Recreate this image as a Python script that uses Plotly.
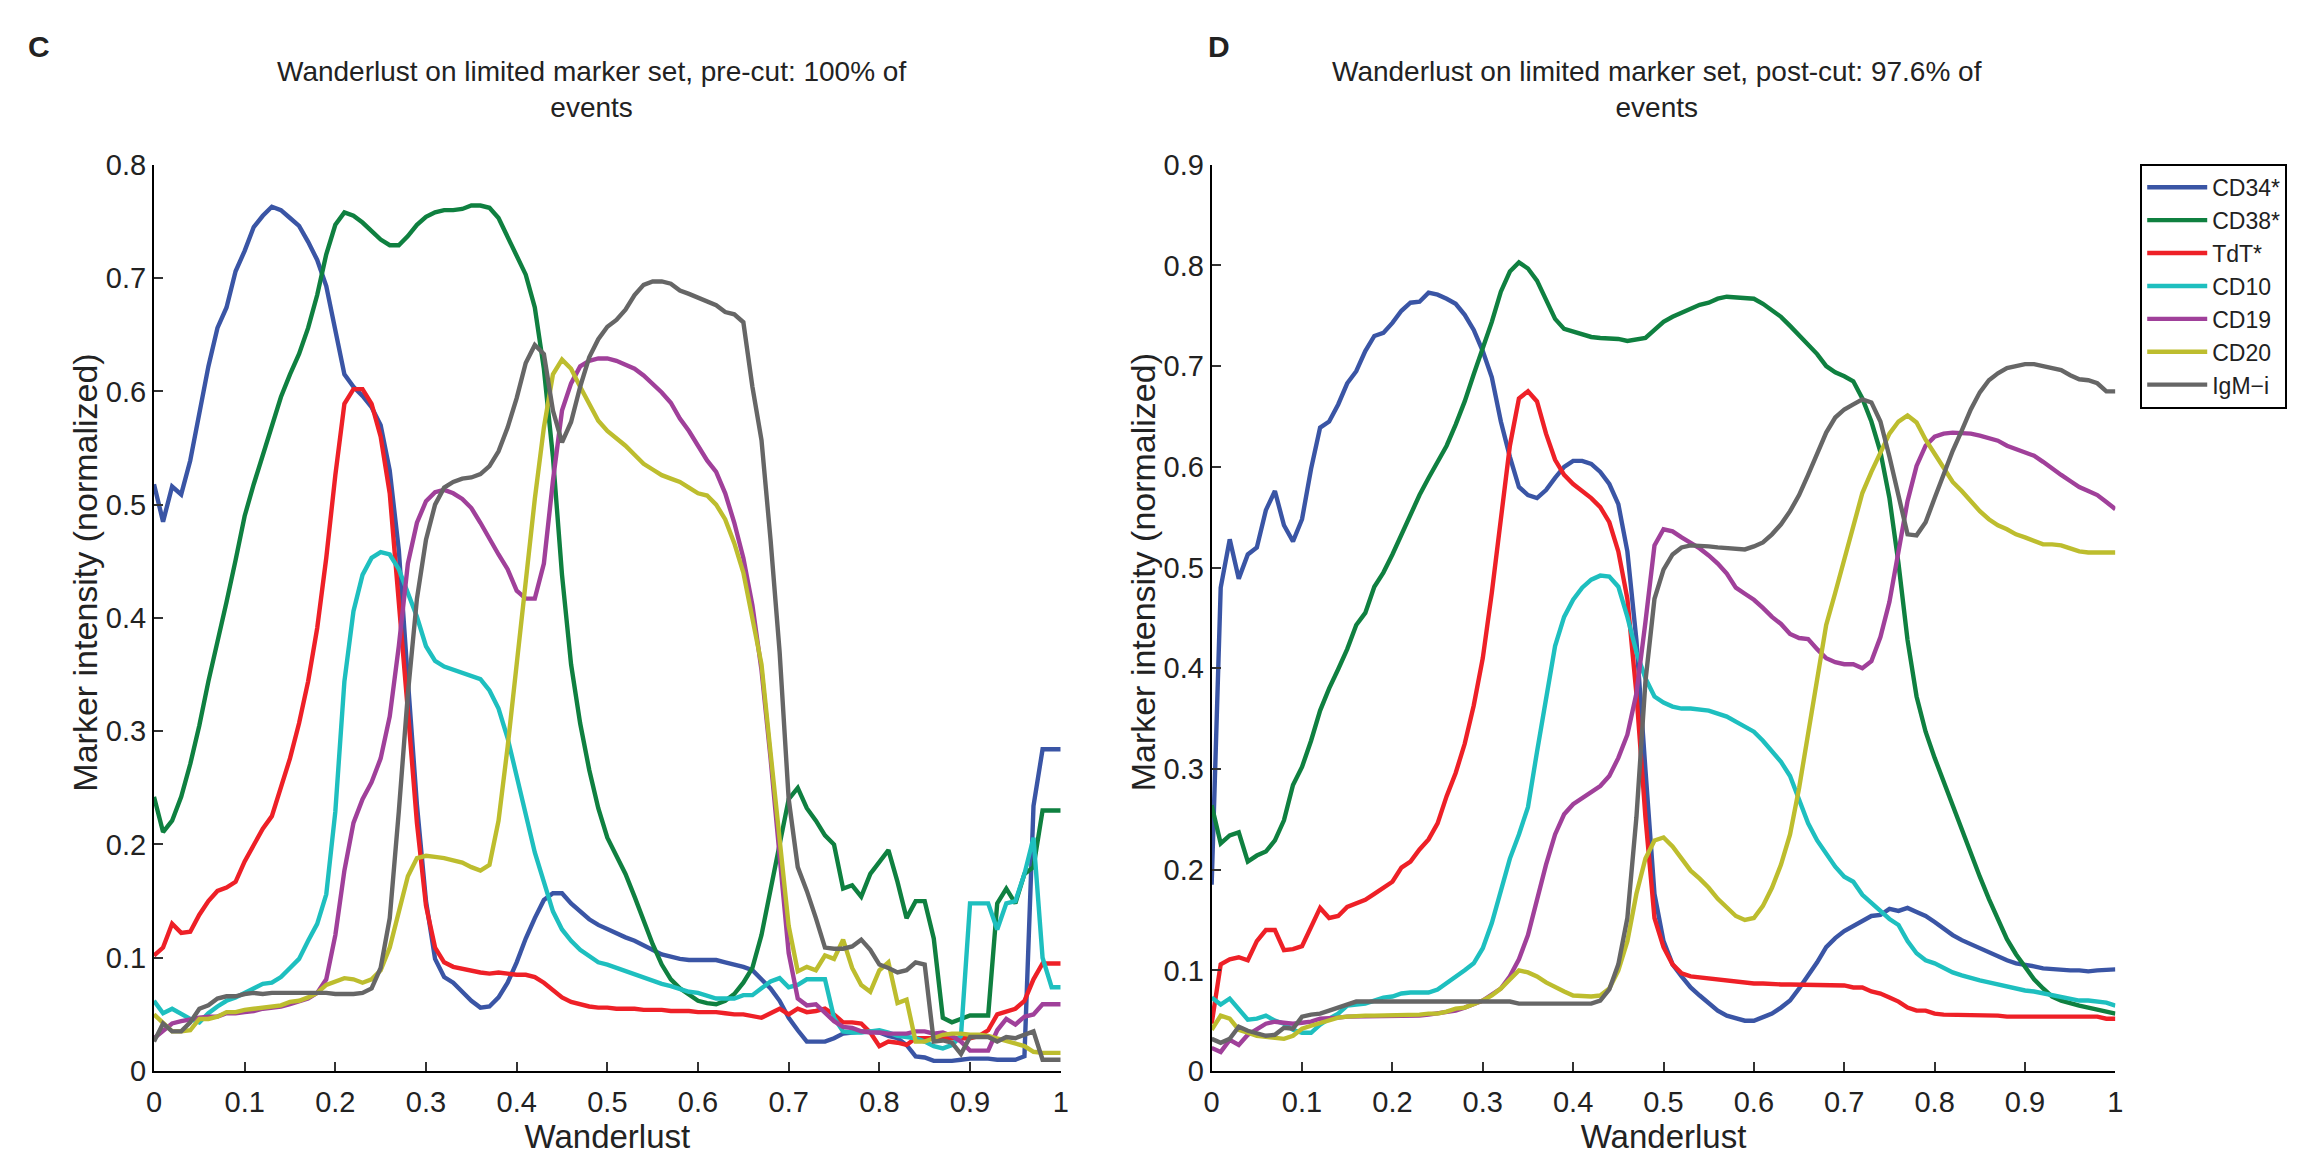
import plotly.graph_objects as go

# ---------------- data ----------------
wanderlust = [round(i * 0.01, 2) for i in range(101)]

markers = ["CD34*", "CD38*", "TdT*", "CD10", "CD19", "CD20", "IgM\u2212i"]
colors = ["#3A55A5", "#0F8040", "#EE2027", "#1EBFBF", "#A0409A", "#BDBD2E", "#666666"]

# Panel C : pre-cut
c_cd34 = [0.518, 0.485, 0.516, 0.509, 0.539, 0.583, 0.622, 0.656, 0.674, 0.706,
          0.724, 0.745, 0.755, 0.763, 0.760, 0.753, 0.746, 0.732, 0.716, 0.693,
          0.656, 0.615, 0.604, 0.596, 0.586, 0.570, 0.530, 0.460, 0.345, 0.235,
          0.150, 0.099, 0.083, 0.078, 0.070, 0.062, 0.056, 0.057, 0.065, 0.078,
          0.096, 0.117, 0.135, 0.151, 0.157, 0.157, 0.148, 0.141, 0.134, 0.129,
          0.125, 0.122, 0.118, 0.115, 0.111, 0.107, 0.103, 0.101, 0.099, 0.098,
          0.098, 0.098, 0.098, 0.096, 0.094, 0.092, 0.089, 0.081, 0.073, 0.062,
          0.047, 0.036, 0.026, 0.026, 0.026, 0.029, 0.033, 0.034, 0.035, 0.035,
          0.034, 0.031, 0.029, 0.023, 0.013, 0.012, 0.009, 0.009, 0.009, 0.010,
          0.011, 0.011, 0.011, 0.010, 0.010, 0.010, 0.013, 0.234, 0.284, 0.284,
          0.284]
c_cd38 = [0.242, 0.211, 0.221, 0.242, 0.271, 0.305, 0.344, 0.378, 0.414, 0.451,
          0.490, 0.518, 0.544, 0.570, 0.595, 0.615, 0.633, 0.656, 0.685, 0.721,
          0.747, 0.758, 0.755, 0.749, 0.742, 0.734, 0.729, 0.729, 0.737, 0.747,
          0.754, 0.758, 0.760, 0.760, 0.761, 0.764, 0.764, 0.762, 0.753, 0.737,
          0.719, 0.703, 0.674, 0.620, 0.542, 0.438, 0.359, 0.307, 0.266, 0.232,
          0.206, 0.190, 0.174, 0.154, 0.133, 0.112, 0.094, 0.081, 0.073, 0.067,
          0.062, 0.060, 0.059, 0.062, 0.068, 0.078, 0.091, 0.120, 0.161, 0.203,
          0.240, 0.250, 0.232, 0.221, 0.208, 0.200, 0.161, 0.164, 0.154, 0.174,
          0.185, 0.195, 0.167, 0.135, 0.150, 0.150, 0.117, 0.047, 0.043, 0.046,
          0.049, 0.049, 0.049, 0.148, 0.161, 0.148, 0.174, 0.180, 0.230, 0.230,
          0.230]
c_tdt = [0.102, 0.109, 0.130, 0.122, 0.123, 0.138, 0.150, 0.159, 0.162, 0.167,
         0.185, 0.200, 0.214, 0.225, 0.250, 0.276, 0.307, 0.344, 0.391, 0.453,
         0.526, 0.589, 0.602, 0.602, 0.589, 0.560, 0.510, 0.417, 0.318, 0.219,
         0.146, 0.109, 0.096, 0.092, 0.090, 0.089, 0.087, 0.086, 0.087, 0.086,
         0.085, 0.085, 0.083, 0.078, 0.072, 0.065, 0.061, 0.059, 0.057, 0.056,
         0.056, 0.055, 0.055, 0.055, 0.054, 0.054, 0.054, 0.053, 0.053, 0.053,
         0.052, 0.052, 0.052, 0.051, 0.050, 0.050, 0.048, 0.047, 0.051, 0.055,
         0.050, 0.055, 0.052, 0.053, 0.055, 0.050, 0.043, 0.043, 0.042, 0.034,
         0.022, 0.026, 0.025, 0.023, 0.029, 0.029, 0.029, 0.029, 0.029, 0.029,
         0.029, 0.031, 0.036, 0.050, 0.053, 0.055, 0.062, 0.081, 0.095, 0.095,
         0.095]
c_cd10 = [0.062, 0.051, 0.055, 0.050, 0.046, 0.043, 0.051, 0.057, 0.062, 0.065,
          0.069, 0.074, 0.077, 0.078, 0.083, 0.091, 0.099, 0.115, 0.130, 0.156,
          0.229, 0.344, 0.406, 0.438, 0.453, 0.458, 0.456, 0.443, 0.422, 0.401,
          0.375, 0.362, 0.357, 0.354, 0.352, 0.349, 0.346, 0.336, 0.320, 0.294,
          0.260, 0.224, 0.193, 0.167, 0.141, 0.125, 0.115, 0.107, 0.102, 0.096,
          0.094, 0.091, 0.088, 0.085, 0.082, 0.080, 0.077, 0.075, 0.072, 0.070,
          0.069, 0.067, 0.064, 0.064, 0.064, 0.067, 0.067, 0.073, 0.079, 0.082,
          0.074, 0.076, 0.081, 0.081, 0.081, 0.047, 0.035, 0.034, 0.034, 0.035,
          0.036, 0.034, 0.031, 0.030, 0.029, 0.026, 0.022, 0.020, 0.023, 0.031,
          0.148, 0.148, 0.148, 0.125, 0.148, 0.150, 0.174, 0.206, 0.100, 0.074,
          0.074]
c_cd19 = [0.029, 0.036, 0.042, 0.044, 0.046, 0.047, 0.048, 0.048, 0.051, 0.051,
          0.052, 0.053, 0.055, 0.056, 0.057, 0.059, 0.061, 0.064, 0.069, 0.081,
          0.120, 0.177, 0.219, 0.240, 0.255, 0.276, 0.313, 0.375, 0.448, 0.484,
          0.503, 0.511, 0.513, 0.510, 0.505, 0.497, 0.484, 0.469, 0.456, 0.443,
          0.424, 0.417, 0.417, 0.448, 0.521, 0.583, 0.607, 0.622, 0.627, 0.629,
          0.629, 0.627, 0.624, 0.620, 0.614, 0.607, 0.599, 0.590, 0.576, 0.565,
          0.552, 0.539, 0.529, 0.510, 0.484, 0.453, 0.411, 0.354, 0.276, 0.188,
          0.104, 0.064, 0.058, 0.059, 0.051, 0.044, 0.039, 0.038, 0.035, 0.034,
          0.034, 0.033, 0.033, 0.033, 0.035, 0.035, 0.033, 0.034, 0.031, 0.026,
          0.018, 0.018, 0.018, 0.036, 0.046, 0.041, 0.048, 0.050, 0.059, 0.059,
          0.059]
c_cd20 = [0.050, 0.042, 0.035, 0.035, 0.036, 0.046, 0.046, 0.048, 0.052, 0.052,
          0.054, 0.055, 0.056, 0.057, 0.058, 0.061, 0.062, 0.065, 0.069, 0.076,
          0.079, 0.082, 0.081, 0.078, 0.081, 0.089, 0.109, 0.141, 0.172, 0.188,
          0.190, 0.189, 0.188, 0.186, 0.184, 0.180, 0.177, 0.182, 0.221, 0.286,
          0.359, 0.438, 0.505, 0.568, 0.615, 0.628, 0.620, 0.604, 0.589, 0.574,
          0.565, 0.559, 0.552, 0.544, 0.536, 0.531, 0.526, 0.523, 0.520, 0.515,
          0.510, 0.508, 0.500, 0.487, 0.466, 0.440, 0.401, 0.359, 0.281, 0.203,
          0.128, 0.088, 0.092, 0.089, 0.102, 0.099, 0.116, 0.091, 0.076, 0.070,
          0.089, 0.096, 0.060, 0.063, 0.026, 0.026, 0.029, 0.032, 0.033, 0.033,
          0.032, 0.032, 0.031, 0.029, 0.026, 0.025, 0.022, 0.017, 0.016, 0.016,
          0.016]
c_igm = [0.026, 0.042, 0.035, 0.035, 0.043, 0.055, 0.058, 0.064, 0.066, 0.066,
         0.068, 0.069, 0.068, 0.069, 0.069, 0.069, 0.069, 0.069, 0.069, 0.069,
         0.068, 0.068, 0.068, 0.069, 0.073, 0.091, 0.135, 0.229, 0.333, 0.417,
         0.469, 0.500, 0.515, 0.520, 0.523, 0.524, 0.527, 0.534, 0.547, 0.568,
         0.594, 0.625, 0.641, 0.633, 0.583, 0.555, 0.573, 0.604, 0.630, 0.646,
         0.657, 0.663, 0.672, 0.685, 0.694, 0.697, 0.697, 0.695, 0.689, 0.686,
         0.683, 0.679, 0.676, 0.670, 0.668, 0.661, 0.604, 0.557, 0.469, 0.370,
         0.240, 0.180, 0.159, 0.135, 0.109, 0.108, 0.108, 0.110, 0.116, 0.107,
         0.094, 0.091, 0.087, 0.089, 0.096, 0.094, 0.026, 0.027, 0.025, 0.015,
         0.030, 0.030, 0.030, 0.026, 0.030, 0.029, 0.032, 0.035, 0.010, 0.010,
         0.010]

# Panel D : post-cut
d_cd34 = [0.185, 0.480, 0.528, 0.489, 0.513, 0.520, 0.557, 0.576, 0.542, 0.526,
          0.548, 0.598, 0.639, 0.645, 0.662, 0.683, 0.695, 0.715, 0.730, 0.733,
          0.743, 0.755, 0.763, 0.764, 0.773, 0.771, 0.767, 0.762, 0.751, 0.736,
          0.715, 0.689, 0.645, 0.610, 0.580, 0.572, 0.569, 0.577, 0.589, 0.600,
          0.606, 0.606, 0.603, 0.595, 0.583, 0.563, 0.516, 0.428, 0.299, 0.176,
          0.129, 0.106, 0.094, 0.083, 0.075, 0.067, 0.060, 0.055, 0.052, 0.050,
          0.050, 0.053, 0.057, 0.063, 0.070, 0.082, 0.095, 0.108, 0.123, 0.132,
          0.139, 0.144, 0.149, 0.154, 0.155, 0.161, 0.159, 0.162, 0.158, 0.154,
          0.148, 0.141, 0.135, 0.130, 0.126, 0.121, 0.117, 0.114, 0.110, 0.107,
          0.106, 0.104, 0.102, 0.101, 0.100, 0.100, 0.100, 0.099, 0.100, 0.101,
          0.101]
d_cd38 = [0.264, 0.226, 0.234, 0.237, 0.208, 0.214, 0.218, 0.229, 0.249, 0.284,
          0.302, 0.328, 0.358, 0.380, 0.399, 0.419, 0.443, 0.455, 0.481, 0.495,
          0.513, 0.533, 0.554, 0.572, 0.589, 0.604, 0.621, 0.642, 0.665, 0.692,
          0.718, 0.744, 0.774, 0.794, 0.803, 0.797, 0.785, 0.765, 0.747, 0.737,
          0.734, 0.732, 0.729, 0.728, 0.728, 0.727, 0.725, 0.726, 0.728, 0.736,
          0.744, 0.749, 0.753, 0.758, 0.761, 0.763, 0.767, 0.769, 0.768, 0.767,
          0.767, 0.762, 0.756, 0.749, 0.740, 0.731, 0.722, 0.712, 0.700, 0.694,
          0.690, 0.685, 0.668, 0.645, 0.615, 0.569, 0.504, 0.428, 0.372, 0.337,
          0.311, 0.287, 0.264, 0.240, 0.217, 0.193, 0.171, 0.151, 0.131, 0.116,
          0.103, 0.091, 0.082, 0.074, 0.070, 0.067, 0.065, 0.063, 0.061, 0.059,
          0.057]
d_tdt = [0.047, 0.106, 0.111, 0.113, 0.110, 0.129, 0.140, 0.140, 0.120, 0.121,
         0.124, 0.144, 0.162, 0.152, 0.154, 0.163, 0.167, 0.170, 0.176, 0.182,
         0.188, 0.202, 0.208, 0.220, 0.230, 0.246, 0.273, 0.296, 0.325, 0.363,
         0.410, 0.475, 0.551, 0.621, 0.668, 0.675, 0.665, 0.633, 0.607, 0.592,
         0.583, 0.576, 0.569, 0.560, 0.545, 0.516, 0.469, 0.375, 0.252, 0.152,
         0.123, 0.106, 0.097, 0.094, 0.093, 0.091, 0.090, 0.089, 0.088, 0.087,
         0.087, 0.087, 0.086, 0.086, 0.086, 0.086, 0.086, 0.086, 0.086, 0.086,
         0.085, 0.083, 0.083, 0.079, 0.077, 0.073, 0.069, 0.063, 0.060, 0.060,
         0.057, 0.056, 0.056, 0.056, 0.055, 0.055, 0.055, 0.055, 0.054, 0.054,
         0.054, 0.054, 0.054, 0.053, 0.053, 0.054, 0.054, 0.054, 0.054, 0.052,
         0.052]
d_cd10 = [0.073, 0.066, 0.072, 0.062, 0.051, 0.052, 0.055, 0.050, 0.047, 0.041,
          0.038, 0.038, 0.046, 0.052, 0.057, 0.065, 0.066, 0.067, 0.070, 0.073,
          0.074, 0.077, 0.078, 0.078, 0.078, 0.081, 0.087, 0.093, 0.100, 0.107,
          0.122, 0.147, 0.179, 0.211, 0.235, 0.262, 0.317, 0.369, 0.422, 0.451,
          0.468, 0.480, 0.488, 0.492, 0.491, 0.481, 0.451, 0.416, 0.390, 0.372,
          0.366, 0.362, 0.360, 0.360, 0.359, 0.358, 0.355, 0.352, 0.347, 0.342,
          0.337, 0.328, 0.317, 0.307, 0.293, 0.270, 0.246, 0.229, 0.215, 0.203,
          0.193, 0.188, 0.175, 0.167, 0.158, 0.151, 0.145, 0.129, 0.117, 0.110,
          0.107, 0.102, 0.098, 0.095, 0.092, 0.090, 0.088, 0.086, 0.083, 0.082,
          0.080, 0.079, 0.077, 0.075, 0.073, 0.072, 0.070, 0.070, 0.069, 0.068,
          0.065]
d_cd19 = [0.023, 0.019, 0.031, 0.026, 0.036, 0.041, 0.047, 0.049, 0.048, 0.047,
          0.048, 0.049, 0.052, 0.052, 0.053, 0.054, 0.054, 0.054, 0.054, 0.055,
          0.054, 0.055, 0.055, 0.055, 0.056, 0.057, 0.059, 0.060, 0.063, 0.066,
          0.070, 0.076, 0.082, 0.094, 0.111, 0.135, 0.170, 0.205, 0.235, 0.255,
          0.265, 0.271, 0.277, 0.283, 0.293, 0.311, 0.334, 0.375, 0.446, 0.522,
          0.538, 0.536, 0.530, 0.525, 0.519, 0.512, 0.504, 0.494, 0.480, 0.474,
          0.468, 0.460, 0.451, 0.444, 0.434, 0.430, 0.429, 0.419, 0.410, 0.406,
          0.404, 0.404, 0.400, 0.407, 0.431, 0.466, 0.516, 0.566, 0.601, 0.621,
          0.630, 0.633, 0.634, 0.634, 0.633, 0.631, 0.629, 0.626, 0.621, 0.618,
          0.614, 0.611, 0.605, 0.598, 0.592, 0.586, 0.580, 0.576, 0.572, 0.565,
          0.558]
d_cd20 = [0.041, 0.055, 0.052, 0.041, 0.038, 0.035, 0.034, 0.033, 0.032, 0.035,
          0.042, 0.045, 0.048, 0.050, 0.053, 0.054, 0.055, 0.055, 0.055, 0.055,
          0.055, 0.055, 0.056, 0.056, 0.057, 0.057, 0.059, 0.062, 0.063, 0.066,
          0.070, 0.075, 0.082, 0.091, 0.100, 0.098, 0.094, 0.088, 0.083, 0.079,
          0.075, 0.074, 0.074, 0.075, 0.082, 0.100, 0.129, 0.176, 0.211, 0.229,
          0.232, 0.223, 0.211, 0.199, 0.191, 0.182, 0.171, 0.162, 0.154, 0.150,
          0.152, 0.164, 0.182, 0.205, 0.235, 0.281, 0.334, 0.390, 0.443, 0.475,
          0.507, 0.539, 0.574, 0.595, 0.615, 0.633, 0.645, 0.651, 0.644, 0.627,
          0.613, 0.598, 0.585, 0.576, 0.566, 0.556, 0.548, 0.542, 0.538, 0.533,
          0.530, 0.526, 0.523, 0.523, 0.522, 0.519, 0.516, 0.515, 0.515, 0.515,
          0.515]
d_igm = [0.032, 0.028, 0.032, 0.044, 0.040, 0.037, 0.035, 0.036, 0.043, 0.042,
         0.054, 0.056, 0.057, 0.060, 0.063, 0.067, 0.069, 0.069, 0.069, 0.069,
         0.070, 0.070, 0.069, 0.069, 0.069, 0.069, 0.069, 0.069, 0.069, 0.069,
         0.070, 0.069, 0.070, 0.069, 0.067, 0.067, 0.067, 0.067, 0.067, 0.067,
         0.067, 0.067, 0.067, 0.070, 0.081, 0.106, 0.152, 0.252, 0.387, 0.469,
         0.498, 0.513, 0.520, 0.522, 0.522, 0.521, 0.520, 0.519, 0.518, 0.518,
         0.521, 0.525, 0.533, 0.543, 0.556, 0.572, 0.592, 0.613, 0.634, 0.649,
         0.657, 0.662, 0.667, 0.664, 0.645, 0.610, 0.569, 0.533, 0.532, 0.545,
         0.569, 0.592, 0.616, 0.636, 0.657, 0.674, 0.686, 0.693, 0.698, 0.700,
         0.702, 0.702, 0.700, 0.699, 0.696, 0.691, 0.687, 0.686, 0.683, 0.675,
         0.675]

pre_cut = [c_cd34, c_cd38, c_tdt, c_cd10, c_cd19, c_cd20, c_igm]
post_cut = [d_cd34, d_cd38, d_tdt, d_cd10, d_cd19, d_cd20, d_igm]

x_ticks = [round(i * 0.1, 1) for i in range(11)]
x_ticktext = ["0", "0.1", "0.2", "0.3", "0.4", "0.5", "0.6", "0.7", "0.8", "0.9", "1"]
y_ticks_c = [round(i * 0.1, 1) for i in range(9)]
y_ticktext_c = ["0", "0.1", "0.2", "0.3", "0.4", "0.5", "0.6", "0.7", "0.8"]
y_ticks_d = [round(i * 0.1, 1) for i in range(10)]
y_ticktext_d = ["0", "0.1", "0.2", "0.3", "0.4", "0.5", "0.6", "0.7", "0.8", "0.9"]

title_c = "Wanderlust on limited marker set, pre-cut: 100% of<br>events"
title_d = "Wanderlust on limited marker set, post-cut: 97.6% of<br>events"
x_label = "Wanderlust"
y_label = "Marker intensity (normalized)"

# ---------------- figure ----------------
W, H = 2324, 1159
FONT = "Liberation Sans Narrow, Arial Narrow, Liberation Sans, Arial, sans-serif"
LW = 4.4
TXT = "#222222"

fig = go.Figure()
for name, col, ys in zip(markers, colors, pre_cut):
    fig.add_trace(go.Scatter(x=wanderlust, y=ys, mode="lines", name=name,
                             line=dict(color=col, width=LW), xaxis="x", yaxis="y",
                             showlegend=False))
for name, col, ys in zip(markers, colors, post_cut):
    fig.add_trace(go.Scatter(x=wanderlust, y=ys, mode="lines", name=name,
                             line=dict(color=col, width=LW), xaxis="x2", yaxis="y2",
                             showlegend=True))

# plot area in pixels
L1, R1 = 147, 1060
L2, R2 = 1212, 2122
TOP, BOT = 153, 1085
dx1 = [L1 / W, R1 / W]
dx2 = [L2 / W, R2 / W]
dy = [1 - BOT / H, 1 - TOP / H]

axis_common = dict(showline=True, linecolor="black", linewidth=2, ticks="inside",
                   ticklen=9, tickwidth=2, tickcolor="#333333", showgrid=False,
                   zeroline=False, mirror=False,
                   tickfont=dict(family=FONT, size=29, color=TXT))

xt = dict(text=x_label, font=dict(family=FONT, size=33), standoff=0)

fig.update_layout(
    width=W, height=H,
    margin=dict(l=0, r=0, t=0, b=0),
    paper_bgcolor="white", plot_bgcolor="white",
    font=dict(family=FONT, color=TXT),
    xaxis=dict(domain=dx1, range=[0, 1], tickvals=x_ticks, ticktext=x_ticktext,
               anchor="y", title=xt, ticklabelstandoff=4, **axis_common),
    yaxis=dict(domain=dy, range=[0, 0.8], tickvals=y_ticks_c, ticktext=y_ticktext_c,
               anchor="x", **axis_common),
    xaxis2=dict(domain=dx2, range=[0, 1], tickvals=x_ticks, ticktext=x_ticktext,
                anchor="y2", title=xt, ticklabelstandoff=4, **axis_common),
    yaxis2=dict(domain=dy, range=[0, 0.9], tickvals=y_ticks_d, ticktext=y_ticktext_d,
                anchor="x2", **axis_common),
    legend=dict(x=2147 / W, y=1 - 152 / H, xanchor="left", yanchor="top",
                bordercolor="black", borderwidth=2, bgcolor="white",
                font=dict(family=FONT, size=23, color=TXT),
                tracegroupgap=0, itemwidth=60),
    showlegend=True,
)

# y-axis labels (sit slightly above the axis centre, as in the original)
for xpix in (78, 1143):
    fig.add_annotation(text=y_label, xref="paper", yref="paper",
                       x=xpix / W, y=1 - 572 / H, xanchor="center", yanchor="middle",
                       textangle=-90, showarrow=False,
                       font=dict(family=FONT, size=34, color=TXT))

fig.add_annotation(text=title_c, xref="paper", yref="paper",
                   x=588 / W, y=1 - 76 / H, xanchor="center", yanchor="middle",
                   showarrow=False, font=dict(family=FONT, size=28, color=TXT))
fig.add_annotation(text=title_d, xref="paper", yref="paper",
                   x=1660 / W, y=1 - 76 / H, xanchor="center", yanchor="middle",
                   showarrow=False, font=dict(family=FONT, size=28, color=TXT))
fig.add_annotation(text="<b>C</b>", xref="paper", yref="paper",
                   x=31 / W, y=1 - 31 / H, xanchor="center", yanchor="middle",
                   showarrow=False, font=dict(family="Liberation Sans, Arial", size=30, color=TXT))
fig.add_annotation(text="<b>D</b>", xref="paper", yref="paper",
                   x=1219 / W, y=1 - 31 / H, xanchor="center", yanchor="middle",
                   showarrow=False, font=dict(family="Liberation Sans, Arial", size=30, color=TXT))

fig.write_html("out.html")
